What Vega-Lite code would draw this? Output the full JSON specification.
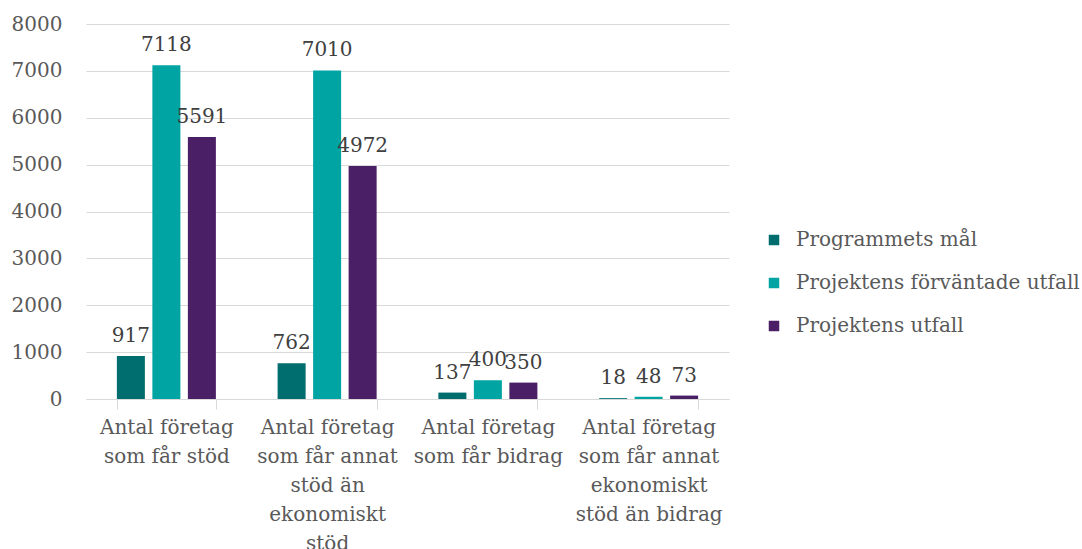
{
  "$schema": "https://vega.github.io/schema/vega-lite/v6.json",
  "width": 643,
  "height": 375,
  "autosize": "none",
  "padding": {"left": 86, "top": 24, "right": 353, "bottom": 150},
  "background": "white",
  "config": {
    "font": "DejaVu Serif",
    "view": {"stroke": null},
    "axis": {"labelFont": "DejaVu Serif", "labelColor": "#595959", "labelFontSize": 20}
  },
  "data": {
    "values": [
      {"kategori": "Antal företag som får stöd", "serie": "Programmets mål", "varde": 917},
      {"kategori": "Antal företag som får stöd", "serie": "Projektens förväntade utfall", "varde": 7118},
      {"kategori": "Antal företag som får stöd", "serie": "Projektens utfall", "varde": 5591},
      {"kategori": "Antal företag som får annat stöd än ekonomiskt stöd", "serie": "Programmets mål", "varde": 762},
      {"kategori": "Antal företag som får annat stöd än ekonomiskt stöd", "serie": "Projektens förväntade utfall", "varde": 7010},
      {"kategori": "Antal företag som får annat stöd än ekonomiskt stöd", "serie": "Projektens utfall", "varde": 4972},
      {"kategori": "Antal företag som får bidrag", "serie": "Programmets mål", "varde": 137},
      {"kategori": "Antal företag som får bidrag", "serie": "Projektens förväntade utfall", "varde": 400},
      {"kategori": "Antal företag som får bidrag", "serie": "Projektens utfall", "varde": 350},
      {"kategori": "Antal företag som får annat ekonomiskt stöd än bidrag", "serie": "Programmets mål", "varde": 18},
      {"kategori": "Antal företag som får annat ekonomiskt stöd än bidrag", "serie": "Projektens förväntade utfall", "varde": 48},
      {"kategori": "Antal företag som får annat ekonomiskt stöd än bidrag", "serie": "Projektens utfall", "varde": 73}
    ]
  },
  "encoding": {
    "x": {
      "field": "kategori",
      "type": "nominal",
      "sort": null,
      "scale": {"paddingInner": 0.384, "paddingOuter": 0.192},
      "axis": {
        "title": null,
        "labelAngle": 0,
        "tickBand": "extent",
        "domainColor": "#d9d9d9",
        "tickColor": "#d9d9d9",
        "tickSize": 10,
        "labelPadding": 8,
        "labelLineHeight": 29,
        "labelLimit": 200,
        "labelOverlap": false,
        "labelExpr": "!isValid(datum.value) || datum.index < 0 ? '' : datum.value == 'Antal företag som får stöd' ? ['Antal företag', 'som får stöd'] : datum.value == 'Antal företag som får bidrag' ? ['Antal företag', 'som får bidrag'] : datum.value == 'Antal företag som får annat stöd än ekonomiskt stöd' ? ['Antal företag', 'som får annat', 'stöd än', 'ekonomiskt', 'stöd'] : datum.value == 'Antal företag som får annat ekonomiskt stöd än bidrag' ? ['Antal företag', 'som får annat', 'ekonomiskt', 'stöd än bidrag'] : ''"
      }
    },
    "xOffset": {"field": "serie", "type": "nominal", "sort": null, "scale": {"paddingInner": 0.211, "paddingOuter": 0}},
    "y": {
      "field": "varde",
      "type": "quantitative",
      "scale": {"domain": [0, 8000], "nice": false},
      "axis": {
        "title": null,
        "values": [0, 1000, 2000, 3000, 4000, 5000, 6000, 7000, 8000],
        "labelOverlap": false,
        "domain": false,
        "ticks": false,
        "gridColor": "#d9d9d9",
        "labelPadding": 24,
        "format": "d"
      }
    }
  },
  "layer": [
    {
      "mark": {"type": "bar"},
      "encoding": {
        "color": {
          "field": "serie",
          "type": "nominal",
          "sort": null,
          "scale": {"range": ["#006d6f", "#00a5a3", "#4b1f66"]},
          "legend": {
            "title": null,
            "orient": "none",
            "legendX": 678,
            "legendY": 206,
            "symbolType": "square",
            "symbolSize": 110,
            "symbolStrokeWidth": 0,
            "labelFontSize": 20,
            "labelColor": "#595959",
            "labelFont": "DejaVu Serif",
            "labelLimit": 400,
            "labelOffset": 12,
            "rowPadding": 23
          }
        }
      }
    },
    {
      "mark": {"type": "text", "baseline": "bottom", "dy": -10, "fontSize": 20, "color": "#404040"},
      "encoding": {"text": {"field": "varde", "type": "quantitative", "format": "d"}}
    }
  ]
}
